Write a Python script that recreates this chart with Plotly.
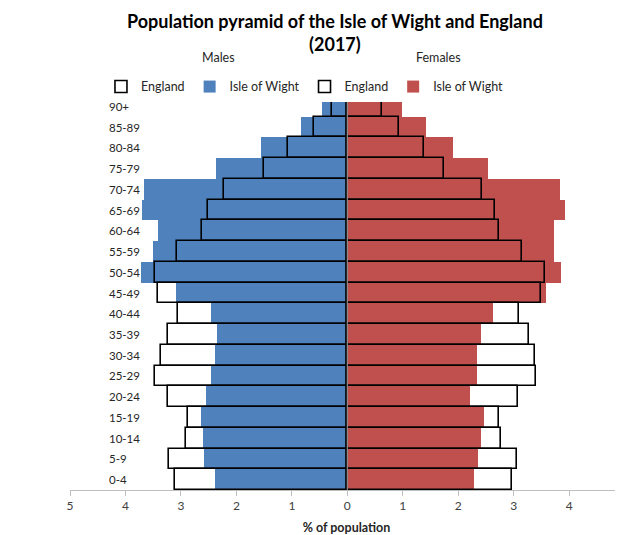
import plotly.graph_objects as go

age_groups = ["0-4", "5-9", "10-14", "15-19", "20-24", "25-29", "30-34", "35-39",
              "40-44", "45-49", "50-54", "55-59", "60-64", "65-69", "70-74",
              "75-79", "80-84", "85-89", "90+"]

male_iow = [2.39, 2.59, 2.61, 2.64, 2.54, 2.45, 2.38, 2.35, 2.45, 3.09,
            3.72, 3.51, 3.41, 3.70, 3.67, 2.36, 1.56, 0.84, 0.46]
male_england = [3.11, 3.21, 2.91, 2.88, 3.24, 3.47, 3.36, 3.24, 3.06, 3.41,
                3.46, 3.08, 2.62, 2.51, 2.23, 1.51, 1.07, 0.60, 0.28]
female_iow = [2.28, 2.35, 2.41, 2.47, 2.21, 2.33, 2.34, 2.41, 2.62, 3.59,
              3.86, 3.73, 3.73, 3.93, 3.84, 2.54, 1.91, 1.42, 0.99]
female_england = [2.96, 3.06, 2.77, 2.73, 3.08, 3.40, 3.38, 3.28, 3.10, 3.50,
                  3.56, 3.15, 2.73, 2.67, 2.43, 1.75, 1.39, 0.94, 0.62]

x_ticks = [-5, -4, -3, -2, -1, 0, 1, 2, 3, 4, 5]
x_tick_text = [str(abs(v)) for v in x_ticks]

BLUE = "#4F81BD"
RED = "#C0504D"
FONT = "Lato"
LABEL_X = -4.33  # left edge of the age-group labels, in axis units

fig = go.Figure()

fig.add_trace(go.Bar(
    y=age_groups, x=[-v for v in male_iow], orientation="h", name="Isle of Wight",
    marker=dict(color=BLUE, line=dict(width=0)), legendrank=2))
fig.add_trace(go.Bar(
    y=age_groups, x=female_iow, orientation="h", name="Isle of Wight",
    marker=dict(color=RED, line=dict(width=0)), legendrank=4))
fig.add_trace(go.Bar(
    y=age_groups, x=[-v for v in male_england], orientation="h", name="England",
    marker=dict(color="rgba(255,255,255,0)", line=dict(color="black", width=1.6)),
    legendrank=1))
fig.add_trace(go.Bar(
    y=age_groups, x=female_england, orientation="h", name="England",
    marker=dict(color="rgba(255,255,255,0)", line=dict(color="black", width=1.6)),
    legendrank=3))

# vertical axis line at zero
fig.add_shape(type="line", xref="x", yref="paper", x0=0, x1=0, y0=0, y1=1,
              line=dict(color="#8C8C8C", width=1.2), layer="above")

annotations = [
    dict(text="<b>Population pyramid of the Isle of Wight and England<br>(2017)</b>",
         xref="paper", yref="paper", x=0.479, y=1.223, xanchor="center", yanchor="top",
         showarrow=False, font=dict(family=FONT, size=18, color="black")),
    dict(text="Males", xref="paper", yref="paper", x=0.268, y=1.097,
         xanchor="center", yanchor="middle", showarrow=False,
         font=dict(family=FONT, size=12.5, color="#262626")),
    dict(text="Females", xref="paper", yref="paper", x=0.667, y=1.097,
         xanchor="center", yanchor="middle", showarrow=False,
         font=dict(family=FONT, size=12.5, color="#262626")),
]
for g in age_groups:
    annotations.append(dict(text=g, xref="x", yref="y", x=LABEL_X, y=g,
                            xanchor="left", yanchor="middle", showarrow=False,
                            font=dict(family=FONT, size=11.5, color="#262626")))

# The page body has an 8px default margin, so the figure is sized to fit the window.
fig.update_layout(
    barmode="overlay",
    bargap=0,
    width=615, height=527,
    margin=dict(l=62, r=0, t=88, b=45, autoexpand=False),
    plot_bgcolor="white", paper_bgcolor="white",
    font=dict(family=FONT, size=12, color="#262626"),
    showlegend=True,
    legend=dict(orientation="h", x=0.056, y=1.023, xanchor="left", yanchor="middle",
                traceorder="normal", itemwidth=30, entrywidth=0,
                font=dict(family=FONT, size=12.5, color="#262626")),
    xaxis=dict(range=[-5, 4.97], tickvals=x_ticks, ticktext=x_tick_text,
               showgrid=False, zeroline=False, showline=True, linecolor="#BFBFBF",
               ticks="outside", tickcolor="#BFBFBF", ticklen=5, automargin=False,
               tickfont=dict(family=FONT, size=12, color="#404040"),
               title=dict(text="<b>% of population</b>", font=dict(family=FONT, size=12.5, color="#262626"),
                          standoff=10)),
    yaxis=dict(categoryorder="array", categoryarray=age_groups,
               showgrid=False, zeroline=False, showline=False, ticks="",
               showticklabels=False, automargin=False),
    annotations=annotations,
)

fig.write_html("out.html")
